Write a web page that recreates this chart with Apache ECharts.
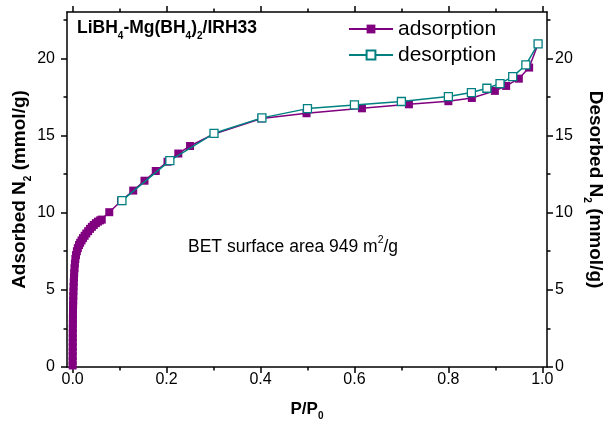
<!DOCTYPE html>
<html>
<head>
<meta charset="utf-8">
<script src="https://cdn.jsdelivr.net/npm/echarts@6/dist/echarts.min.js"></script>
<style>
html,body{margin:0;padding:0;background:#fff;}
#chart{width:605px;height:430px;}
</style>
</head>
<body>
<div id="chart"></div>
<script>
// ---- data ----
const adsorptionP = [0.0000,0.0000,0.0001,0.0001,0.0002,0.0002,0.0003,0.0003,0.0004,0.0005,0.0006,0.0007,0.0008,0.0010,0.0012,0.0014,0.0017,0.0020,0.0024,0.0028,0.0033,0.0040,0.0048,0.0058,0.0072,0.0090,0.0110,0.0135,0.0160,0.0190,0.0220,0.0255,0.0290,0.0330,0.0370,0.0410,0.0450,0.0495,0.0540,0.0585,0.0620,
  0.078,0.103,0.129,0.153,0.177,0.202,0.225,0.250,0.301,0.402,0.498,0.616,0.716,0.800,0.850,0.899,0.923,0.950,0.972,0.991];
const adsorptionN2 = [0.10,0.40,0.70,1.00,1.30,1.60,1.90,2.20,2.50,2.80,3.10,3.40,3.70,4.00,4.30,4.60,4.90,5.20,5.50,5.80,6.10,6.40,6.70,7.00,7.25,7.50,7.70,7.90,8.05,8.20,8.35,8.50,8.65,8.80,8.95,9.08,9.20,9.32,9.42,9.50,9.55,
  10.03,10.75,11.43,12.07,12.70,13.30,13.83,14.32,15.10,16.10,16.44,16.76,17.02,17.22,17.43,17.89,18.21,18.68,19.40,20.93];
const desorptionP = [0.105,0.207,0.301,0.403,0.500,0.600,0.700,0.800,0.849,0.882,0.910,0.937,0.965,0.991];
const desorptionN2 = [10.78,13.37,15.14,16.14,16.74,16.98,17.20,17.52,17.78,18.06,18.36,18.81,19.57,20.93];
const seriesNames = ['adsorption','desorption'];
const xMajorTicks = [0,0.2,0.4,0.6,0.8,1.0];
const xMinorTicks = [0.1,0.3,0.5,0.7,0.9];
const yMajorTicks = [0,5,10,15,20];
const yMinorTicks = [2.5,7.5,12.5,17.5,22.5];
const xRange = [-0.012, 1.01];
const yRange = [0, 23];

const FONT = 'Liberation Sans, Arial, sans-serif';
const chart = echarts.init(document.getElementById('chart'), null, {renderer:'canvas'});

function nameRich(size){
  return {
    m:{fontSize:size,fontWeight:'bold',fontFamily:FONT,color:'#000',lineHeight:size+7,verticalAlign:'middle'},
    s:{fontSize:10,fontWeight:'bold',fontFamily:FONT,color:'#000',lineHeight:4,verticalAlign:'bottom'}
  };
}
const lineStyleAxis = {color:'#000',width:1.5};

function majorX(pos){
  return {type:'value',gridIndex:0,position:pos,min:xRange[0],max:xRange[1],
    axisLine:{show:true,onZero:false,lineStyle:lineStyleAxis},
    axisTick:{show:true,inside:false,length:6,customValues:xMajorTicks,lineStyle:{color:'#000',width:1.5}},
    axisLabel:{show:pos==='bottom',customValues:xMajorTicks,margin:5,fontSize:16,fontFamily:FONT,color:'#000',
      formatter:v=>v.toFixed(1)},
    splitLine:{show:false}};
}
function minorX(pos){
  return {type:'value',gridIndex:1,position:pos,min:xRange[0],max:xRange[1],
    axisLine:{show:false,onZero:false},
    axisTick:{show:true,inside:false,length:3.5,customValues:xMinorTicks,lineStyle:{color:'#000',width:1.5}},
    axisLabel:{show:false},splitLine:{show:false}};
}
function majorY(pos){
  return {type:'value',gridIndex:0,position:pos,min:yRange[0],max:yRange[1],
    axisLine:{show:true,onZero:false,lineStyle:lineStyleAxis},
    axisTick:{show:true,inside:false,length:6,customValues:yMajorTicks,lineStyle:{color:'#000',width:1.5}},
    axisLabel:{show:true,customValues:yMajorTicks,margin:pos==='left'?12:8,fontSize:16,fontFamily:FONT,color:'#000'},
    splitLine:{show:false}};
}
function minorY(pos){
  return {type:'value',gridIndex:1,position:pos,min:yRange[0],max:yRange[1],
    axisLine:{show:false,onZero:false},
    axisTick:{show:true,inside:false,length:3.5,customValues:yMinorTicks,lineStyle:{color:'#000',width:1.5}},
    axisLabel:{show:false},splitLine:{show:false}};
}

const xb = majorX('bottom');
xb.name = '{m|P/P}{s|0}';
xb.nameLocation = 'middle';
xb.nameGap = 30;
xb.nameMoveOverlap = false;
xb.nameTextStyle = {rich:nameRich(17)};

const yl = majorY('left');
yl.name = '{m|Adsorbed N}{s|2}{m| (mmol/g)}';
yl.nameLocation = 'middle';
yl.nameRotate = 90;
yl.nameGap = 34;
yl.nameMoveOverlap = false;
yl.nameTextStyle = {rich:nameRich(19)};

const yr = majorY('right');
yr.name = '{m|Desorbed N}{s|2}{m| (mmol/g)}';
yr.nameLocation = 'middle';
yr.nameRotate = -90;
yr.nameGap = 35;
yr.nameMoveOverlap = false;
yr.nameTextStyle = {rich:nameRich(19)};

const adsData = adsorptionP.map((p,i)=>[p,adsorptionN2[i]]);
const desData = desorptionP.map((p,i)=>[p,desorptionN2[i]]);

const gridRect = {left:67,right:58,top:12,bottom:63,containLabel:false,outerBoundsMode:'none'};

const option = {
  backgroundColor:'#fff',
  animation:false,
  grid:[Object.assign({},gridRect), Object.assign({},gridRect)],
  xAxis:[xb, majorX('top'), minorX('bottom'), minorX('top')],
  yAxis:[yl, yr, minorY('left'), minorY('right')],
  legend:{
    data:seriesNames, orient:'vertical', left:348, top:18, padding:0,
    itemWidth:44, itemHeight:11, itemGap:4,
    textStyle:{fontSize:21,fontFamily:FONT,color:'#000',lineHeight:22}
  },
  graphic:[
    {type:'text',left:77,top:19,z:10,
     style:{text:'{m|LiBH}{s|4}{m|-Mg(BH}{s|4}{m|)}{s|2}{m|/IRH33}',
       rich:{
         m:{fontSize:17.5,fontWeight:'bold',fontFamily:FONT,fill:'#000',lineHeight:22,verticalAlign:'top'},
         s:{fontSize:10,fontWeight:'bold',fontFamily:FONT,fill:'#000',lineHeight:4,verticalAlign:'bottom'}
       }}},
    {type:'text',left:188,top:235,z:10,
     style:{text:'{t|BET surface area 949 m}{p|2}{t|/g}',
       rich:{
         t:{fontSize:17.5,fontFamily:FONT,fill:'#000',lineHeight:21,verticalAlign:'bottom'},
         p:{fontSize:10.5,fontFamily:FONT,fill:'#000',lineHeight:10,verticalAlign:'top'}
       }}}
  ],
  series:[
    {name:seriesNames[0],type:'line',xAxisIndex:0,yAxisIndex:0,data:adsData,
     symbol:'rect',symbolSize:8,showSymbol:true,showAllSymbol:true,
     lineStyle:{color:'#800080',width:1.5},
     itemStyle:{color:'#800080',borderWidth:0},z:2},
    {name:seriesNames[1],type:'line',xAxisIndex:0,yAxisIndex:0,data:desData,
     symbol:'rect',symbolSize:8,showSymbol:true,
     lineStyle:{color:'#008080',width:1.5},
     itemStyle:{color:'#ffffff',borderColor:'#008080',borderWidth:1.3},z:3}
  ]
};
chart.setOption(option);
</script>
</body>
</html>
